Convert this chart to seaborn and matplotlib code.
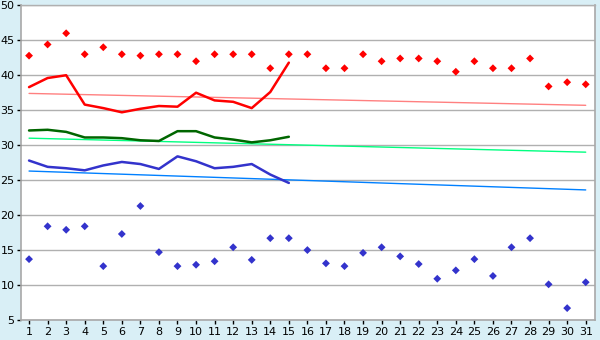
import numpy as np
import pandas as pd
import matplotlib
matplotlib.use("Agg")
import matplotlib.pyplot as plt
import seaborn as sns

days = list(range(1, 32))
max_points = [42.8, 44.4, 46.0, 43.0, 44.0, 43.0, 42.8, 43.0, 43.0, 42.0,
              43.0, 43.0, 43.0, 41.0, 43.0, 43.0, 41.0, 41.0, 43.0, 42.0,
              42.4, 42.4, 42.0, 40.5, 42.0, 41.0, 41.0, 42.4, 38.4, 39.0, 38.7]
min_points = [13.7, 18.4, 17.9, 18.4, 12.7, 17.3, 21.3, 14.7, 12.7, 12.9,
              13.4, 15.4, 13.6, 16.7, 16.7, 15.0, 13.1, 12.7, 14.6, 15.4,
              14.1, 13.0, 10.9, 12.1, 13.7, 11.3, 15.4, 16.7, 10.1, 6.7, 10.4]
line_days = list(range(1, 16))
max_line = [38.3, 39.6, 40.0, 35.8, 35.3, 34.7, 35.2, 35.6, 35.5, 37.5,
            36.4, 36.2, 35.3, 37.6, 41.8]
mean_line = [32.1, 32.2, 31.9, 31.1, 31.1, 31.0, 30.7, 30.6, 32.0, 32.0,
             31.1, 30.8, 30.4, 30.7, 31.2]
min_line = [27.8, 26.9, 26.7, 26.4, 27.1, 27.6, 27.3, 26.6, 28.4, 27.7,
            26.7, 26.9, 27.3, 25.8, 24.6]
trend_days = [1, 31]
max_trend = [37.4, 35.7]
mean_trend = [31.0, 29.0]
min_trend = [26.3, 23.6]
y_ticks = [5, 10, 15, 20, 25, 30, 35, 40, 45, 50]

sns.set_theme(style="white")
plt.rcParams['font.family'] = ['DejaVu Sans']

bg = "#D9EFF6"
fig = plt.figure(figsize=(6, 3.4), dpi=100, facecolor=bg)
ax = fig.add_axes([20.7 / 600, 20 / 340, 574.3 / 600, 314.7 / 340])
ax.set_facecolor("white")

for y in y_ticks:
    ax.axhline(y, color="#B0B0B0", lw=1.0, zorder=0)

sns.lineplot(x=trend_days, y=max_trend, ax=ax, color="#FF8080", lw=1.0)
sns.lineplot(x=trend_days, y=mean_trend, ax=ax, color="#00FF80", lw=1.0)
sns.lineplot(x=trend_days, y=min_trend, ax=ax, color="#0080FF", lw=1.0)

sns.lineplot(x=line_days, y=max_line, ax=ax, color="#FF0000", lw=1.8)
sns.lineplot(x=line_days, y=mean_line, ax=ax, color="#006600", lw=1.8)
sns.lineplot(x=line_days, y=min_line, ax=ax, color="#3333CC", lw=1.8)

sns.scatterplot(x=days, y=max_points, ax=ax, color="#FF0000", marker="D",
                s=16, edgecolor="none")
sns.scatterplot(x=days, y=min_points, ax=ax, color="#3333CC", marker="D",
                s=16, edgecolor="none")

ax.set_xlim(0.55, 31.5)
ax.set_ylim(5, 50)
ax.set_xticks(days)
ax.set_xticklabels([str(d) for d in days])
ax.set_yticks(y_ticks)
ax.set_yticklabels([str(v) for v in y_ticks])
ax.tick_params(axis="both", labelsize=8, colors="black", length=3,
               width=1, direction="out", pad=1.5)
ax.tick_params(axis="x", bottom=True, pad=2)
ax.tick_params(axis="y", left=True)
ax.set_xlabel("")
ax.set_ylabel("")
for side in ["left", "bottom", "right", "top"]:
    ax.spines[side].set_visible(True)
    ax.spines[side].set_color("#A8A8A8")
    ax.spines[side].set_linewidth(1.2)
ax.spines["top"].set_linewidth(1.0)
ax.spines["top"].set_color("#B0B0B0")
for t in ax.xaxis.get_ticklines() + ax.yaxis.get_ticklines():
    t.set_color("black")

fig.savefig("out.png", dpi=100, facecolor=bg)
